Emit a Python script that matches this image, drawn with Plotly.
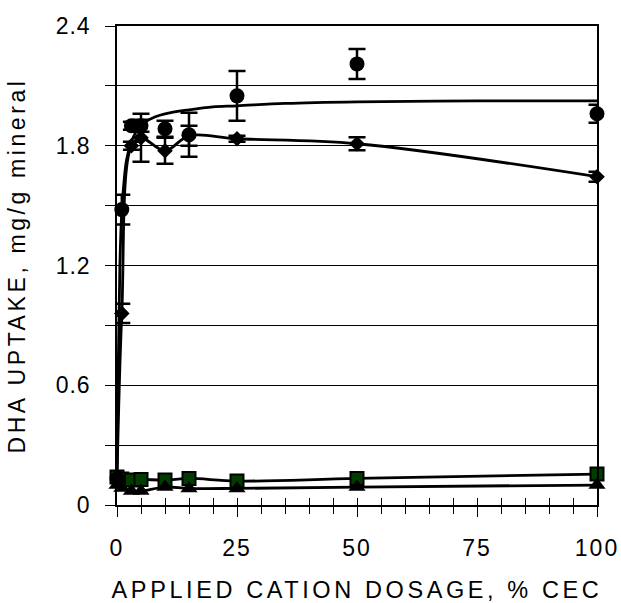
import plotly.graph_objects as go

# ---------------- data ----------------
dose = [0, 1, 3, 5, 10, 15, 25, 50, 100]

circle_y = [0.13, 1.48, 1.90, 1.90, 1.885, 1.855, 2.05, 2.21, 1.96]
circle_err = [0.0, 0.075, 0.02, 0.03, 0.04, 0.11, 0.125, 0.075, 0.045]

diamond_y = [0.14, 0.96, 1.80, 1.84, 1.775, 1.85, 1.835, 1.81, 1.645]
diamond_err = [0.0, 0.048, 0.02, 0.12, 0.065, 0.05, 0.015, 0.033, 0.025]

square_y = [0.14, 0.13, 0.125, 0.128, 0.125, 0.133, 0.12, 0.133, 0.155]
triangle_y = [0.10, 0.085, 0.07, 0.07, 0.09, 0.083, 0.083, 0.09, 0.10]

# fitted curve for the circle series
fit_x = [0, 0.3, 0.6, 1, 1.5, 2, 3, 4, 6, 8, 10, 15, 20, 25, 35, 50, 75, 100]
fit_y = [0.13, 0.75, 1.2, 1.47, 1.63, 1.73, 1.82, 1.87, 1.92, 1.945, 1.96,
         1.98, 1.995, 2.0, 2.012, 2.02, 2.025, 2.025]

x_ticks = [0, 25, 50, 75, 100]
y_ticks = [0, 0.6, 1.2, 1.8, 2.4]
y_tick_text = ["0", "0.6", "1.2", "1.8", "2.4"]
x_title = "APPLIED CATION DOSAGE, % CEC"
y_title = "DHA UPTAKE, mg/g mineral"

FONT = "Liberation Sans, Arial, sans-serif"
GREEN = "#003c00"


def spaced(t, px):
    return '<span style="letter-spacing:%spx">%s</span>' % (px, t)


fig = go.Figure()

# square series
fig.add_trace(go.Scatter(
    x=dose, y=square_y, mode="lines+markers", cliponaxis=False,
    line=dict(color="black", width=2.8, shape="spline", smoothing=1),
    marker=dict(symbol="square", size=13, color=GREEN,
                line=dict(color="black", width=2)),
    showlegend=False))

# triangle series
fig.add_trace(go.Scatter(
    x=dose, y=triangle_y, mode="lines+markers", cliponaxis=False,
    line=dict(color="black", width=2.8, shape="spline", smoothing=1),
    marker=dict(symbol="triangle-up", size=15, color="black"),
    showlegend=False))

# diamond series
fig.add_trace(go.Scatter(
    x=dose, y=diamond_y, mode="lines+markers", cliponaxis=False,
    line=dict(color="black", width=2.8, shape="spline", smoothing=1),
    marker=dict(symbol="diamond", size=12, color="black"),
    error_y=dict(type="data", array=diamond_err, visible=True,
                 color="black", thickness=2.5, width=8.5),
    showlegend=False))

# circle fitted curve
fig.add_trace(go.Scatter(
    x=fit_x, y=fit_y, mode="lines", cliponaxis=False,
    line=dict(color="black", width=2.8, shape="spline", smoothing=1),
    showlegend=False, hoverinfo="skip"))

# circle series
fig.add_trace(go.Scatter(
    x=dose, y=circle_y, mode="markers", cliponaxis=False,
    marker=dict(symbol="circle", size=15, color="black"),
    error_y=dict(type="data", array=circle_err, visible=True,
                 color="black", thickness=2.5, width=8.5),
    showlegend=False))

# invisible trace for the overlay axis (inside tick marks)
fig.add_trace(go.Scatter(x=[0, 100], y=[0, 0], xaxis="x2", mode="markers",
                         marker=dict(opacity=0), showlegend=False,
                         hoverinfo="skip"))

fig.update_layout(
    width=621, height=603,
    margin=dict(l=117, r=24, t=26, b=98, autoexpand=False),
    paper_bgcolor="white", plot_bgcolor="white",
    font=dict(family=FONT, color="black"),
    xaxis=dict(
        range=[0, 100], tickmode="array", tickvals=x_ticks,
        ticktext=[spaced(str(v), 2) for v in x_ticks],
        ticks="outside", ticklen=10, tickwidth=1.2, tickcolor="black",
        minor=dict(dtick=5, ticks="outside", ticklen=7, tickwidth=1.2,
                   tickcolor="black", showgrid=False),
        showline=True, linecolor="black", linewidth=1.5, mirror=True,
        showgrid=False, zeroline=False, automargin=False,
        tickfont=dict(size=23, family=FONT, color="black"),
        ticklabelstandoff=12,
        title=dict(text=spaced(x_title, 3.6), font=dict(size=23.5, family=FONT),
                   standoff=25),
    ),
    xaxis2=dict(
        range=[0, 100], overlaying="x", side="bottom", anchor="y",
        tickmode="array", tickvals=x_ticks, showticklabels=False,
        ticks="inside", ticklen=7, tickwidth=1.2, tickcolor="black",
        minor=dict(dtick=5, ticks="inside", ticklen=7, tickwidth=1.2,
                   tickcolor="black"),
        showline=False, showgrid=False, zeroline=False, automargin=False,
    ),
    yaxis=dict(
        range=[0, 2.4], tickmode="array", tickvals=y_ticks,
        ticktext=[spaced(t, 1) for t in y_tick_text],
        ticks="outside", ticklen=10, tickwidth=1.2, tickcolor="black",
        minor=dict(dtick=0.3, ticks="outside", ticklen=10, tickwidth=1.2,
                   tickcolor="black", showgrid=True, gridcolor="black",
                   gridwidth=1),
        showgrid=True, gridcolor="black", gridwidth=1,
        showline=True, linecolor="black", linewidth=1.5, mirror=True,
        zeroline=False, automargin=False,
        tickfont=dict(size=23, family=FONT, color="black"),
        ticklabelstandoff=10,
        title=dict(text=spaced(y_title, 3.6), font=dict(size=23, family=FONT),
                   standoff=24),
    ),
)

fig.write_html("out.html")
